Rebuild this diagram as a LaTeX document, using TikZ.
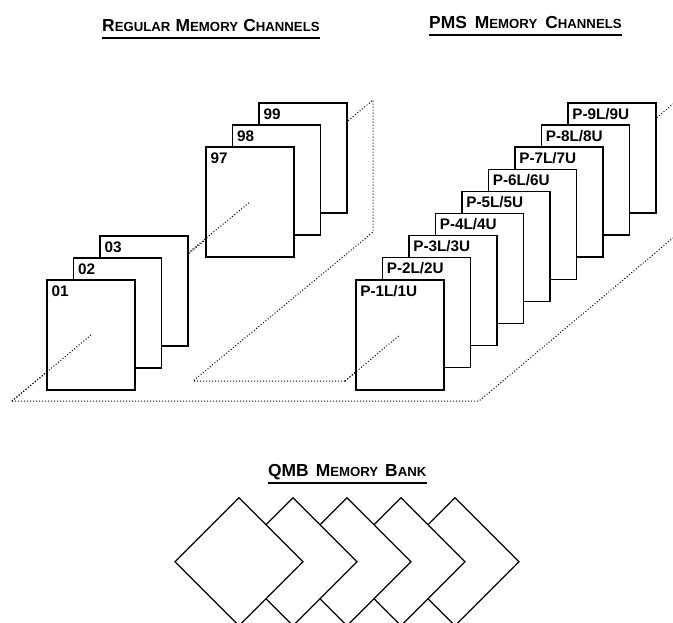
\documentclass[tikz,border=0pt]{standalone}
\usepackage{fontspec}
\setmainfont{Liberation Sans}
\usetikzlibrary{shapes.geometric}
\newcommand{\hdr}[2]{{\fontsize{17.4}{18}\selectfont #1}{\fontsize{13.2}{18}\selectfont #2}}
\newcommand{\hgap}[1]{\hspace{#1pt}}

\begin{document}
\begin{tikzpicture}[x=1pt,y=-1pt,
chan/.style={draw,fill=white,line width=1.5pt,minimum width=88pt,minimum height=110pt,inner sep=0pt,outer sep=0pt},
tag/.style={anchor=north west,font=\fontsize{15.3}{17}\selectfont\bfseries,inner sep=0pt,text height=11pt,text depth=0pt,xshift=4.3pt,yshift=-5pt},
bank/.style={draw,fill=white,diamond,aspect=1,line width=1.3pt,minimum size=128pt,inner sep=0pt,outer sep=0pt},
title/.style={font=\bfseries,inner sep=0pt,text depth=6pt,anchor=south west},
rule/.style={line width=2.6pt},
plane/.style={dash pattern=on 1pt off 2pt,line width=1pt}]
\useasboundingbox (0,0) rectangle (673,623);
% planes
\coordinate (a1) at (12,401);
\coordinate (a2) at (479,401);
\coordinate (a3) at (673,238);
\coordinate (b1) at (193,381);
\coordinate (b2) at (345,381);
\coordinate (b3) at (373,232);
\coordinate (b4) at (373,100);
\coordinate (b5) at (673,104);
\draw[plane] (a1) -- (a2) -- (a3);
\draw[plane] (b2) -- (b1) -- (b3) -- (b4) -- (a1);
\draw[plane] (b2) -- (b5);
% regular channels
\node[chan,label={[tag]north west:99}] (r99) at (303,158) {};
\node[chan,label={[tag]north west:98}] (r98) at (276.5,180) {};
\node[chan,label={[tag]north west:97}] (r97) at (250,202) {};
\node[chan,label={[tag]north west:03}] (r03) at (144,291) {};
\node[chan,label={[tag]north west:02}] (r02) at (117.5,313) {};
\node[chan,label={[tag]north west:01}] (r01) at (91,335) {};
% pms channels
\node[chan,label={[tag]north west:P-9L/9U}] (p9) at (611.8,158) {};
\node[chan,label={[tag]north west:P-8L/8U}] (p8) at (585.3,180.1) {};
\node[chan,label={[tag]north west:P-7L/7U}] (p7) at (558.8,202.2) {};
\node[chan,label={[tag]north west:P-6L/6U}] (p6) at (532.3,224.3) {};
\node[chan,label={[tag]north west:P-5L/5U}] (p5) at (505.8,246.4) {};
\node[chan,label={[tag]north west:P-4L/4U}] (p4) at (479.3,268.5) {};
\node[chan,label={[tag]north west:P-3L/3U}] (p3) at (452.8,290.6) {};
\node[chan,label={[tag]north west:P-2L/2U}] (p2) at (426.3,312.7) {};
\node[chan,label={[tag]north west:P-1L/1U}] (p1) at (399.8,335) {};
% plane edges over the front pages
\draw[plane] (a1) -- (r01.center);
\draw[plane] (r03.east |- 0,253) -- (r97.center);
\draw[plane] (b2) -- (p1.center);
% bank
\node[bank] (d5) at (455,561.7) {};
\node[bank] (d4) at (401,561.7) {};
\node[bank] (d3) at (347,561.7) {};
\node[bank] (d2) at (293,561.7) {};
\node[bank] (d1) at (239,561.7) {};
% titles
\node[title] (regular) at (102,38) {\hdr{R}{EGULAR}\hgap{5.2}\hdr{M}{EMORY}\hgap{5.2}\hdr{C}{HANNELS}};
\node[title] (pms) at (429,35) {\hdr{PMS}{}\hgap{8}\hdr{M}{EMORY}\hgap{8}\hdr{C}{HANNELS}};
\node[title] (qmb) at (268,483) {\hdr{QMB}{}\hgap{7}\hdr{M}{EMORY}\hgap{7}\hdr{B}{ANK}};
\draw[rule] (regular.south west) -- (regular.south east);
\draw[rule] (pms.south west) -- (pms.south east);
\draw[rule] (qmb.south west) -- (qmb.south east);
\end{tikzpicture}
\end{document}
